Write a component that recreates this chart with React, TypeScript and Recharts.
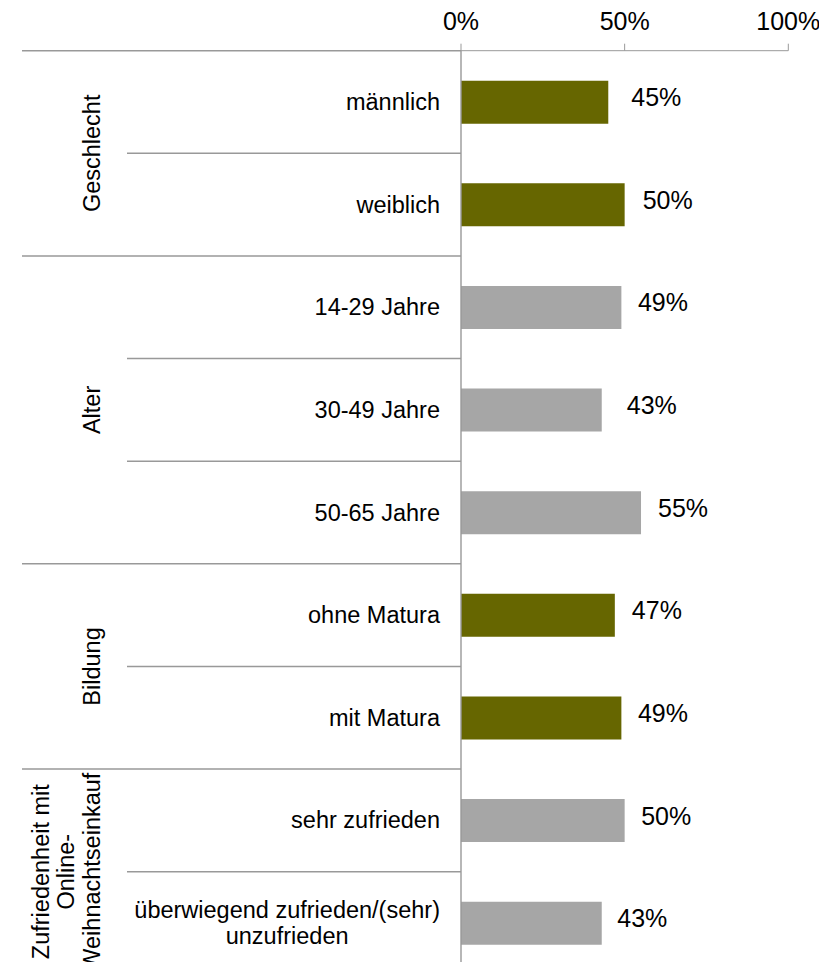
import React from 'react';
import { BarChart, Bar, XAxis, YAxis, Cell, LabelList } from 'recharts';

// ---- data ----
const groupNames = ['Geschlecht', 'Alter', 'Bildung', 'Zufriedenheit mit\nOnline-\nWeihnachtseinkauf'];
const groupSizes = [2, 3, 2, 2];
const categories = [
  'männlich',
  'weiblich',
  '14-29 Jahre',
  '30-49 Jahre',
  '50-65 Jahre',
  'ohne Matura',
  'mit Matura',
  'sehr zufrieden',
  'überwiegend zufrieden/(sehr)\nunzufrieden',
];
const values = [45, 50, 49, 43, 55, 47, 49, 50, 43];
const xTicks = [0, 50, 100];
const groupColors = ['#666600', '#a6a6a6', '#666600', '#a6a6a6'];

// ---- layout / style ----
const CHART_W = 819;
const CHART_H = 972;
const MARGIN = { top: 0, right: 38.7, bottom: 5.7, left: 0 };
const X_AXIS_H = 42.7;
const Y_AXIS_W = 453;
const PLOT_H = CHART_H - MARGIN.top - MARGIN.bottom - X_AXIS_H;
const BAND = PLOT_H / categories.length;
const PLOT_LEFT = MARGIN.left + Y_AXIS_W;
const LINE_COLOR = '#999999';
const FONT = "'Liberation Sans', Arial, sans-serif";
const CAT_FS = 23.5;
const VAL_FS = 25;
const LABEL_GAP = 16.5;
const labelNudge = [6.5, 1.5, 0, 8.5, 0.5, 0.5, 0, 0, -1];

// rows built from arrays
const groupOfRow: number[] = [];
const groupStart: boolean[] = [];
groupSizes.forEach((s, g) => {
  for (let k = 0; k < s; k++) {
    groupOfRow.push(g);
    groupStart.push(k === 0);
  }
});
const data = categories.map((name, i) => ({ name, value: values[i], group: groupOfRow[i], idx: i }));

let measureCtx: CanvasRenderingContext2D | null = null;
function textWidth(t: string, fs: number) {
  try {
    if (!measureCtx) measureCtx = document.createElement('canvas').getContext('2d');
    if (measureCtx) {
      measureCtx.font = `${fs}px 'Liberation Sans'`;
      return measureCtx.measureText(t).width;
    }
  } catch (e) {}
  return t.length * fs * 0.5;
}

const CategoryTick = (props: any) => {
  const { y, payload } = props;
  const i: number = payload && typeof payload.index === 'number' ? payload.index : props.index;
  const row = data[i];
  if (!row) return null;
  const top = y - BAND / 2;
  const labelRight = PLOT_LEFT - 21;
  const lines = String(row.name).split('\n');
  const elems: React.ReactNode[] = [];

  // separator at the top of each row
  elems.push(
    <line
      key="sep"
      x1={groupStart[i] ? 14 : 119}
      x2={PLOT_LEFT}
      y1={top}
      y2={top}
      stroke={LINE_COLOR}
      strokeWidth={1.4}
    />
  );

  // category label
  if (lines.length === 1) {
    elems.push(
      <text key="lab" x={labelRight} y={y} textAnchor="end" dominantBaseline="central" fontSize={CAT_FS} fill="#000" fontFamily={FONT}>
        {lines[0]}
      </text>
    );
  } else {
    const w = Math.max(...lines.map((l) => textWidth(l, CAT_FS)));
    const cx = labelRight - w / 2;
    lines.forEach((l, k) => {
      elems.push(
        <text key={'lab' + k} x={cx} y={y + (k - (lines.length - 1) / 2) * 26} textAnchor="middle" dominantBaseline="central" fontSize={CAT_FS} fill="#000" fontFamily={FONT}>
          {l}
        </text>
      );
    });
  }

  // group label, drawn once per group
  if (groupStart[i]) {
    const g = row.group;
    const cy = y + ((groupSizes[g] - 1) / 2) * BAND;
    const glines = groupNames[g].split('\n');
    glines.forEach((l, k) => {
      const cx = 84 - (glines.length - 1 - k) * 25.5;
      elems.push(
        <text
          key={'grp' + k}
          x={cx}
          y={cy}
          transform={`rotate(-90 ${cx} ${cy})`}
          textAnchor="middle"
          dominantBaseline="central"
          fontSize={CAT_FS}
          fill="#000"
          fontFamily={FONT}
        >
          {l}
        </text>
      );
    });
  }
  return <g>{elems}</g>;
};

const ValueLabel = (props: any) => {
  const { x, y, width, height, value, index } = props;
  const nudge = labelNudge[index] || 0;
  return (
    <text
      x={Number(x) + Number(width) + LABEL_GAP + nudge}
      y={Number(y) + Number(height) / 2 - 5}
      dominantBaseline="central"
      fontSize={VAL_FS}
      fill="#000"
      fontFamily={FONT}
    >
      {`${value}%`}
    </text>
  );
};

export default function App() {
  return (
    <div style={{ height: 970, overflow: 'hidden', marginBottom: -16 }}>
      <BarChart
        width={CHART_W}
        height={CHART_H}
        data={data}
        layout="vertical"
        margin={MARGIN}
        style={{ fontFamily: FONT }}
      >
        <XAxis
          type="number"
          orientation="top"
          domain={[0, 100]}
          ticks={xTicks}
          tickFormatter={(v: number) => `${v}%`}
          height={X_AXIS_H}
          tickSize={7}
          tickMargin={14}
          stroke={LINE_COLOR}
          tick={{ fill: '#000', fontSize: VAL_FS, fontFamily: FONT }}
          interval={0}
        />
        <YAxis
          type="category"
          dataKey="name"
          width={Y_AXIS_W}
          tick={(p: any) => <CategoryTick {...p} />}
          tickLine={false}
          axisLine={{ stroke: LINE_COLOR, strokeWidth: 1.4 }}
          interval={0}
        />
        <Bar dataKey="value" barSize={43} isAnimationActive={false}>
          {data.map((d, i) => (
            <Cell key={i} fill={groupColors[d.group]} />
          ))}
          <LabelList dataKey="value" content={(p: any) => <ValueLabel {...p} />} />
        </Bar>
      </BarChart>
    </div>
  );
}
